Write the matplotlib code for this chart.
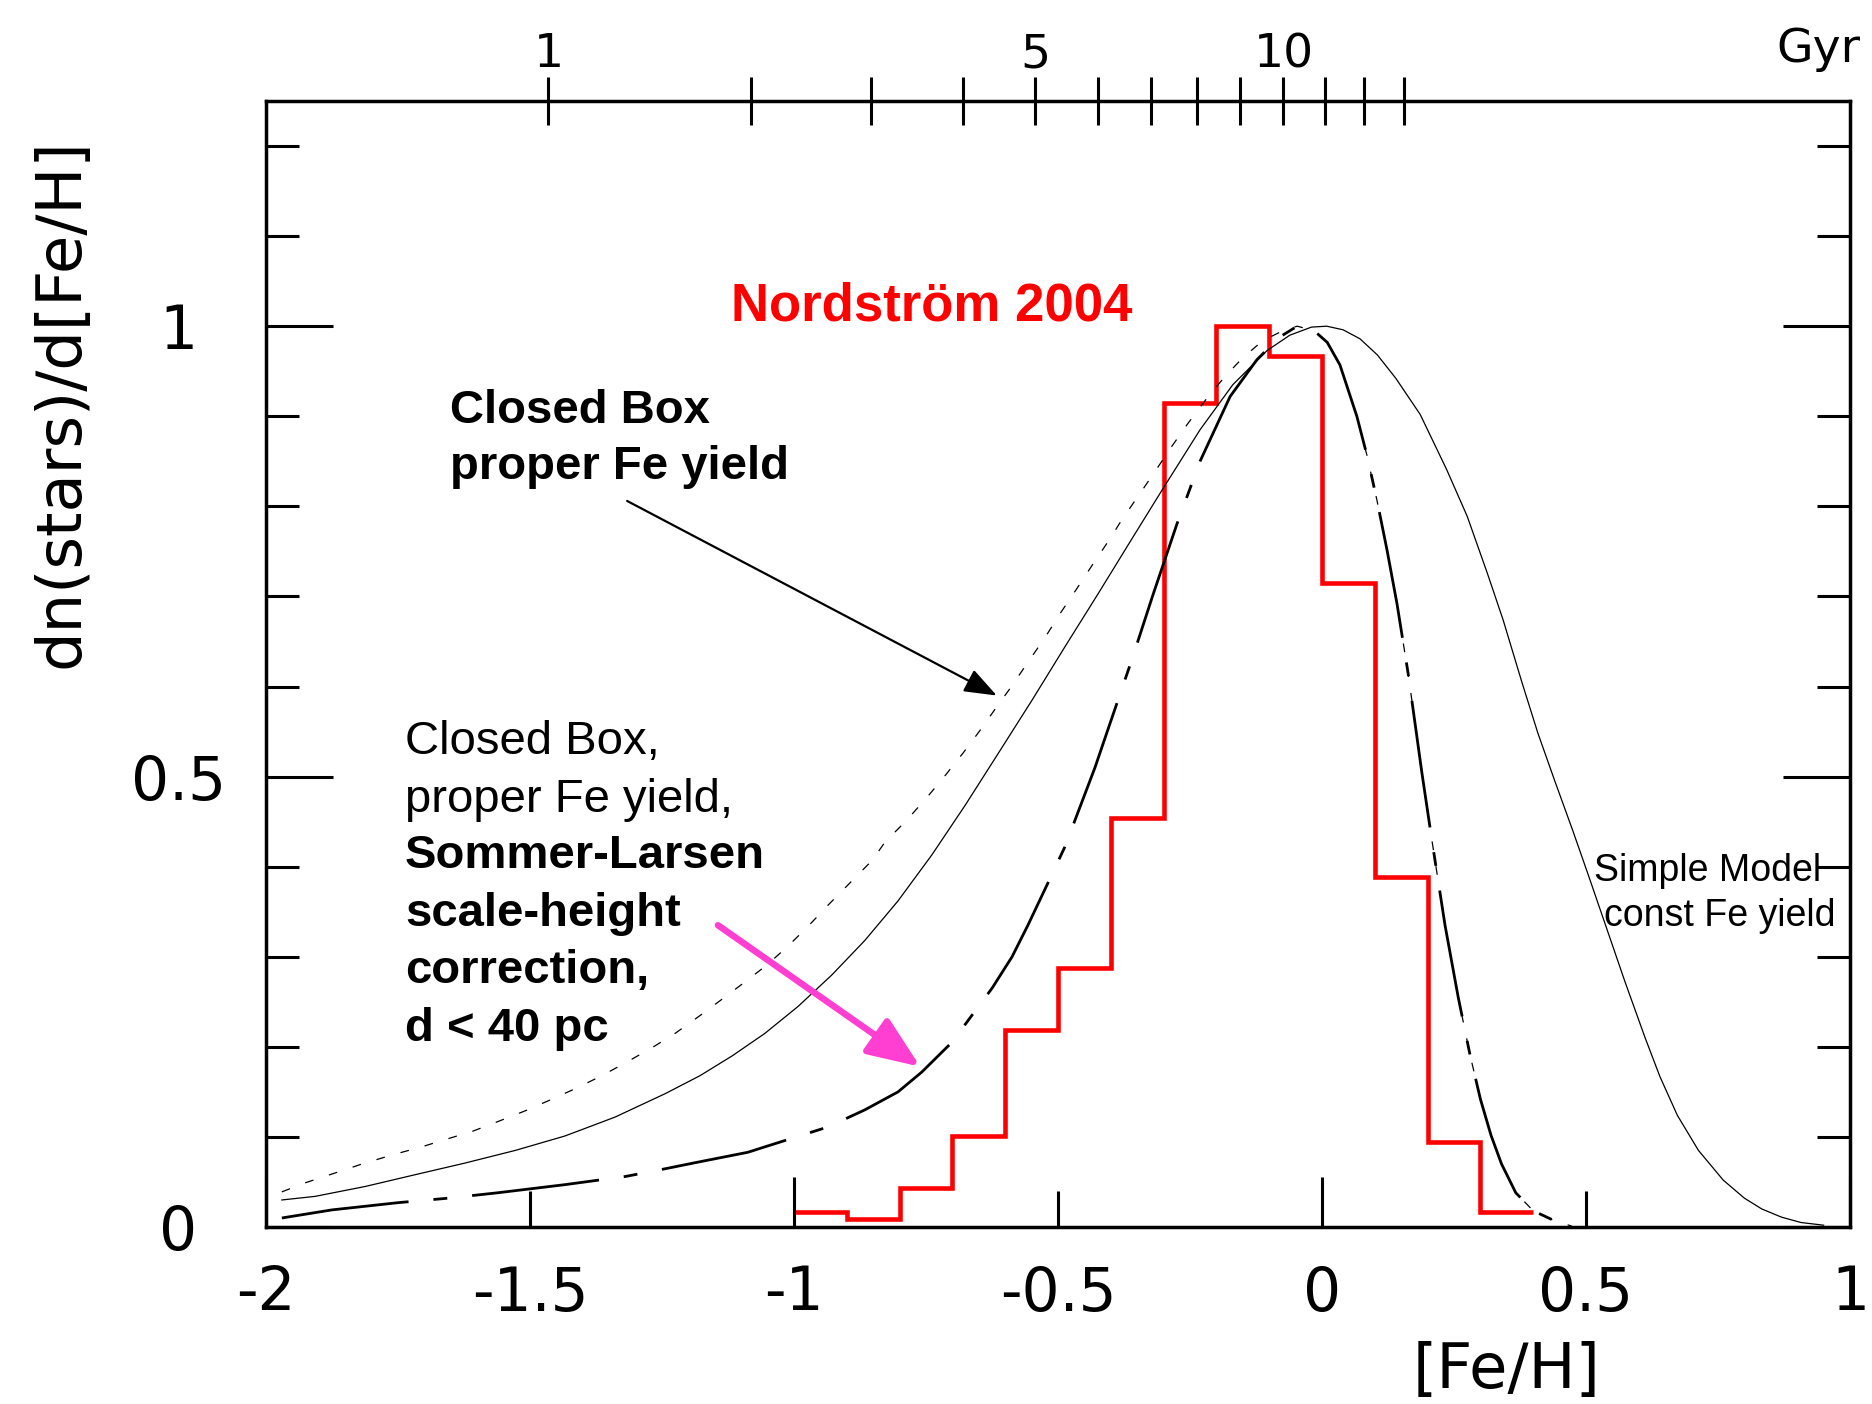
import numpy as np
import matplotlib
matplotlib.use('Agg')
import matplotlib.pyplot as plt

plt.rcParams['font.family'] = 'DejaVu Sans'

# Nordstrom 2004 histogram, 0.1 dex bins
hist_edges = [-1.0, -0.9, -0.8, -0.7, -0.6, -0.5, -0.4, -0.3, -0.2, -0.1, 0.0, 0.1, 0.2, 0.3, 0.4]
hist_vals = [0.017, 0.009, 0.043, 0.101, 0.219, 0.288, 0.454, 0.915, 1.0, 0.967, 0.715, 0.388, 0.094, 0.017]

# simple model, const Fe yield (thin solid)
simple_x = [-1.97, -1.907, -1.812, -1.718, -1.623, -1.528, -1.434, -1.339, -1.244, -1.178, -1.117,
            -1.055, -0.992, -0.928, -0.866, -0.803, -0.739, -0.676, -0.614, -0.549, -0.487, -0.424,
            -0.360, -0.303, -0.231, -0.169, -0.104, -0.061, -0.02, 0.009, 0.040, 0.072, 0.105, 0.140,
            0.186, 0.236, 0.275, 0.313, 0.343, 0.379, 0.409, 0.441, 0.475, 0.506, 0.540, 0.574,
            0.612, 0.640, 0.673, 0.713, 0.760, 0.800, 0.833, 0.870, 0.907, 0.950]
simple_y = [0.030, 0.034, 0.045, 0.058, 0.071, 0.085, 0.101, 0.122, 0.148, 0.168, 0.190,
            0.215, 0.245, 0.280, 0.318, 0.362, 0.413, 0.468, 0.525, 0.585, 0.644, 0.703,
            0.764, 0.818, 0.885, 0.935, 0.973, 0.990, 0.999, 1.0, 0.996, 0.986, 0.968, 0.942,
            0.902, 0.841, 0.789, 0.726, 0.674, 0.604, 0.548, 0.495, 0.440, 0.388, 0.330, 0.272,
            0.210, 0.167, 0.124, 0.085, 0.052, 0.032, 0.020, 0.011, 0.005, 0.002]

# closed box, proper Fe yield (thin dashed), rising side
cbox_x = [-1.97, -1.926, -1.869, -1.818, -1.761, -1.705, -1.661, -1.610, -1.561, -1.509, -1.458,
          -1.409, -1.364, -1.320, -1.269, -1.225, -1.182, -1.136, -1.093, -1.051, -1.011, -0.973,
          -0.936, -0.894, -0.852, -0.828, -0.786, -0.748, -0.714, -0.680, -0.648, -0.619, -0.587,
          -0.557, -0.525, -0.496, -0.464, -0.436, -0.405, -0.377, -0.345, -0.316, -0.284, -0.254,
          -0.218, -0.184, -0.150, -0.112, -0.074]
cbox_y = [0.039, 0.049, 0.060, 0.070, 0.080, 0.089, 0.097, 0.106, 0.117, 0.129, 0.142,
          0.155, 0.168, 0.182, 0.199, 0.215, 0.233, 0.253, 0.272, 0.291, 0.312, 0.334,
          0.357, 0.382, 0.407, 0.427, 0.452, 0.477, 0.501, 0.526, 0.551, 0.575, 0.601,
          0.627, 0.654, 0.681, 0.709, 0.734, 0.761, 0.787, 0.814, 0.839, 0.867, 0.892,
          0.920, 0.944, 0.965, 0.984, 0.995]

# closed box + Sommer-Larsen scale-height correction, d < 40 pc (thick)
sl_x = [-1.97, -1.875, -1.75, -1.655, -1.561, -1.434, -1.320, -1.258, -1.182, -1.087, -1.055,
        -0.936, -0.866, -0.803, -0.758, -0.701, -0.625, -0.587, -0.557, -0.519, -0.487, -0.430,
        -0.405, -0.360, -0.320, -0.275, -0.231, -0.174, -0.123, -0.080, -0.047, -0.015, 0.010, 0.034,
        0.066, 0.085, 0.104, 0.123, 0.142, 0.163, 0.189, 0.208, 0.233, 0.258, 0.280, 0.300,
        0.320, 0.340, 0.367, 0.400, 0.440, 0.473]
sl_y = [0.010, 0.019, 0.027, 0.032, 0.038, 0.047, 0.056, 0.063, 0.072, 0.083, 0.089,
        0.111, 0.130, 0.150, 0.172, 0.205, 0.265, 0.300, 0.335, 0.382, 0.422, 0.510,
        0.553, 0.630, 0.702, 0.780, 0.850, 0.922, 0.963, 0.988, 1.0, 0.995, 0.982, 0.957,
        0.900, 0.857, 0.807, 0.752, 0.692, 0.615, 0.505, 0.430, 0.335, 0.255, 0.192, 0.142,
        0.102, 0.070, 0.038, 0.018, 0.007, 0.001]

# age scale on top (Gyr) at [Fe/H] positions
age_feh = [-1.465, -1.082, -0.855, -0.679, -0.543, -0.425, -0.323, -0.237, -0.155, -0.073, 0.005, 0.080, 0.155]
age_labels = ['1', '', '', '', '5', '', '', '', '', '10', '', '', '']

W, H = 1872, 1404
fig = plt.figure(figsize=(W / 100, H / 100), dpi=100)
ax = fig.add_axes([266 / W, 177 / H, 1584 / W, 1126 / H])
ax.set_xlim(-2, 1)
ax.set_ylim(0, 1.25)
for s in ax.spines.values():
    s.set_linewidth(2.5)

ax.plot(simple_x, simple_y, color='black', lw=0.9)
# dashed closed box curve follows the thick curve after the peak
peak = sl_x.index(-0.047)
ax.plot(cbox_x + sl_x[peak:], cbox_y + sl_y[peak:], color='black', lw=0.9, dashes=(7, 13))
ax.plot(sl_x, sl_y, color='black', lw=2.0, dashes=(46, 9, 5, 9), dash_capstyle='butt')
ax.stairs(hist_vals, hist_edges, baseline=None, color='#ff0000', lw=3.3)

ax.set_xticks([-2, -1, 0, 1], ['-2', '-1', '0', '1'])
ax.set_xticks([-1.5, -0.5, 0.5], ['-1.5', '-0.5', '0.5'], minor=True)
ax.set_yticks([0, 0.5, 1], ['0', '0.5', '1'])
ax.set_yticks([0.1, 0.2, 0.3, 0.4, 0.6, 0.7, 0.8, 0.9, 1.1, 1.2], minor=True)
ax.tick_params(axis='x', which='both', direction='in', top=True, bottom=True,
               labelsize=43, pad=27, width=2.2)
ax.tick_params(axis='x', which='major', length=36)
ax.tick_params(axis='x', which='minor', length=26)
ax.tick_params(axis='y', which='both', direction='in', left=True, right=True,
               labelsize=43, pad=63, width=2.2)
ax.tick_params(axis='y', which='major', length=48)
ax.tick_params(axis='y', which='minor', length=24)
for lab in ax.get_yticklabels():
    lab.set_ha('center')

ax2 = ax.twiny()
ax2.set_xlim(ax.get_xlim())
ax2.set_xticks(age_feh, age_labels)
ax2.tick_params(axis='x', direction='inout', length=34, width=2.2, pad=0, labelsize=34)
for s in ax2.spines.values():
    s.set_visible(False)
fig.text(1818 / W, 1 - 50 / H, 'Gyr', ha='center', va='center', fontsize=34)

fig.text(62 / W, 1 - 403 / H, 'dn(stars)/d[Fe/H]', rotation=90, ha='center', va='center', fontsize=45)
fig.text(1507 / W, 1 - 1371 / H, '[Fe/H]', ha='center', va='center', fontsize=45)

ann = dict(family='Liberation Sans', va='baseline')
ax.text(-1.119, 1.006, 'Nordström 2004', color='#ff0000', fontsize=38, fontweight='bold', **ann)
ax.text(-1.652, 0.893, 'Closed Box', fontsize=34, fontweight='bold', **ann)
ax.text(-1.652, 0.830, 'proper Fe yield', fontsize=34, fontweight='bold', **ann)

block = [('Closed Box,', 'normal'), ('proper Fe yield,', 'normal'), ('Sommer-Larsen', 'bold'),
         ('scale-height', 'bold'), ('correction,', 'bold'), ('d < 40 pc', 'bold')]
block_y = [0.525, 0.461, 0.398, 0.334, 0.271, 0.207]
for (txt, wt), yy in zip(block, block_y):
    ax.text(-1.737, yy, txt, fontsize=34, fontweight=wt, **ann)

ax.text(0.516, 0.384, 'Simple Model', fontsize=27, **ann)
ax.text(0.535, 0.334, 'const Fe yield', fontsize=27, **ann)

ax.annotate('', xy=(-0.616, 0.590), xytext=(-1.316, 0.806),
            arrowprops=dict(arrowstyle='-|>,head_length=0.8,head_width=0.3', mutation_scale=25,
                            lw=1.6, color='black', shrinkA=0, shrinkB=0))
ax.annotate('', xy=(-0.761, 0.178), xytext=(-1.144, 0.335),
            arrowprops=dict(arrowstyle='-|>,head_length=1.6,head_width=0.65', mutation_scale=20,
                            lw=4.7, color='#ff3fd2', shrinkA=0, shrinkB=0))

fig.savefig('out.png', dpi=100)
